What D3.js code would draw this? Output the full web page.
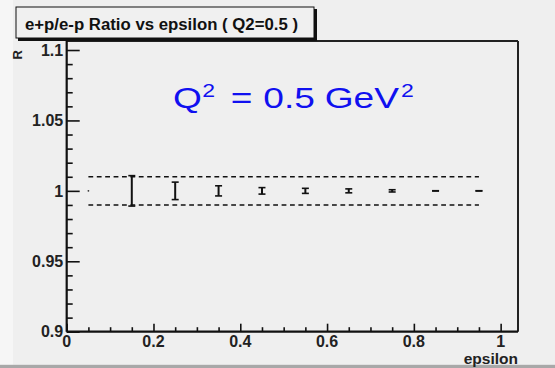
<!DOCTYPE html>
<html><head><meta charset="utf-8">
<script src="https://cdn.jsdelivr.net/npm/d3@7"></script>
<style>
html,body{margin:0;padding:0;background:#f0f0f0;}
svg{display:block;}
text{font-family:"Liberation Sans",Arial,sans-serif;}
</style></head>
<body>
<svg id="c" width="555" height="368"></svg>
<script>
const epsilon = [0.05, 0.15, 0.25, 0.35, 0.45, 0.55, 0.65, 0.75, 0.85, 0.95];
const ratio   = [1.0, 1.0, 1.0, 1.0, 1.0, 1.0, 1.0, 1.0, 1.0, 1.0];
const ratioErr= [0.0, 0.0108, 0.0062, 0.0036, 0.0023, 0.0018, 0.0014, 0.0008, 0.0001, 0.0001];
const bandLevels = [1.01, 0.99];
const bandRange = [0.05, 0.95];
const xTicks = [0, 0.2, 0.4, 0.6, 0.8, 1];
const yTicks = [0.9, 0.95, 1.0, 1.05, 1.1];
const xTickLabels = ["0", "0.2", "0.4", "0.6", "0.8", "1"];
const yTickLabels = ["0.9", "0.95", "1", "1.05", "1.1"];
const titleText = "e+p/e-p Ratio vs epsilon ( Q2=0.5 )";

const svg = d3.select("#c");
const X0 = 66.7, X1 = 518, Y0 = 331.7, Y1 = 41;
const x = d3.scaleLinear().domain([0, 1.04]).range([X0, X1]);
const y = d3.scaleLinear().domain([0.9, 1.1064]).range([Y0, Y1]);

// canvas bg
svg.append("rect").attr("x",0).attr("y",0).attr("width",555).attr("height",368).attr("fill","#efefef");
svg.append("rect").attr("x",0).attr("y",0).attr("width",13).attr("height",368).attr("fill","#f6f6f6");
svg.append("rect").attr("x",0).attr("y",364.8).attr("width",555).attr("height",4).attr("fill","#a8a8a8");

// frame top & right
svg.append("line").attr("x1",X0).attr("x2",X1).attr("y1",Y1).attr("y2",Y1).attr("stroke","#222").attr("stroke-width",2);
svg.append("line").attr("x1",X1).attr("x2",X1).attr("y1",Y1).attr("y2",Y0).attr("stroke","#222").attr("stroke-width",2);

// dashed band lines
bandLevels.forEach(v=>{
  svg.append("line").attr("x1",x(bandRange[0])).attr("x2",x(bandRange[1]))
    .attr("y1",y(v)).attr("y2",y(v))
    .attr("stroke","#111").attr("stroke-width",1.6).attr("stroke-dasharray","4.8,3.6");
});

// axes
const yMinor = d3.range(0.9, 1.1001, 0.01).map(v=>+v.toFixed(3)).filter(v=>!yTicks.some(t=>Math.abs(t-v)<1e-6));
const xMinor = d3.range(0, 1.0001, 0.05).map(v=>+v.toFixed(3)).filter(v=>!xTicks.some(t=>Math.abs(t-v)<1e-6));

const yAxis = svg.append("g").attr("transform",`translate(${X0},0)`);
yAxis.call(d3.axisRight(y).tickValues(yTicks).tickSize(13).tickFormat(""));
yAxis.append("g").call(d3.axisRight(y).tickValues(yMinor).tickSize(6).tickFormat(""));
yAxis.selectAll(".domain").remove();
yAxis.selectAll("line").attr("stroke","#111").attr("stroke-width",1.6);
yAxis.append("line").attr("x1",0).attr("x2",0).attr("y1",Y1).attr("y2",Y0).attr("stroke","#111").attr("stroke-width",2.2);
yTicks.forEach((t,i)=>{
  yAxis.append("text").attr("x",-3.5).attr("y",y(t)).attr("dy","0.36em")
    .attr("text-anchor","end").attr("font-weight","bold").attr("font-size",16).attr("fill","#222").text(yTickLabels[i]);
});

const xAxis = svg.append("g").attr("transform",`translate(0,${Y0})`);
xAxis.call(d3.axisTop(x).tickValues(xTicks).tickSize(8).tickFormat(""));
xAxis.append("g").call(d3.axisTop(x).tickValues(xMinor).tickSize(4.5).tickFormat(""));
xAxis.selectAll(".domain").remove();
xAxis.selectAll("line").attr("stroke","#111").attr("stroke-width",1.6);
xAxis.append("line").attr("x1",X0).attr("x2",X1).attr("y1",0).attr("y2",0).attr("stroke","#111").attr("stroke-width",2.2);
xTicks.forEach((t,i)=>{
  xAxis.append("text").attr("x",x(t)).attr("y",15.8)
    .attr("text-anchor","middle").attr("font-weight","bold").attr("font-size",16).attr("fill","#222").text(xTickLabels[i]);
});

// axis titles
svg.append("text").attr("x",X1).attr("y",363.5).attr("text-anchor","end")
  .attr("font-weight","bold").attr("font-size",15.5).attr("fill","#222").text("epsilon");
svg.append("text").attr("transform","translate(22,50) rotate(-90)").attr("text-anchor","end")
  .attr("font-weight","bold").attr("font-size",13).attr("fill","#222").text("R");

// error bars
const capW = 3.5;
const g = svg.append("g");
epsilon.forEach((e,i)=>{
  const cx = x(e), lo = y(ratio[i]-ratioErr[i]), hi = y(ratio[i]+ratioErr[i]);
  if (ratioErr[i] === 0) {
    g.append("circle").attr("cx",cx).attr("cy",y(ratio[i])).attr("r",0.9).attr("fill","#333");
    return;
  }
  g.append("line").attr("x1",cx).attr("x2",cx).attr("y1",lo).attr("y2",hi).attr("stroke","#111").attr("stroke-width",2);
  [lo,hi].forEach(yy=>g.append("line").attr("x1",cx-capW).attr("x2",cx+capW).attr("y1",yy).attr("y2",yy).attr("stroke","#111").attr("stroke-width",1.6));
});

// title box
const tb = svg.append("g");
tb.append("rect").attr("x",18).attr("y",9).attr("width",299).attr("height",32).attr("fill","#111");
tb.append("rect").attr("x",16).attr("y",7).attr("width",298).attr("height",31).attr("fill","#f0f0f0").attr("stroke","#111").attr("stroke-width",1);
tb.append("text").attr("x",25).attr("y",30).attr("font-weight","bold").attr("font-size",16)
  .attr("textLength",273).attr("lengthAdjust","spacingAndGlyphs").attr("fill","#111").text(titleText);

// Q2 label (horizontally stretched like the reference)
const q = svg.append("g").attr("transform","translate(175,107.5) scale(1.28,1)")
  .attr("fill","#1010f0");
q.append("text").attr("x",-1.5).attr("y",0).attr("font-size",29).text("Q");
q.append("text").attr("x",21.3).attr("y",-10.5).attr("font-size",18).text("2");
q.append("text").attr("x",43.5).attr("y",0).attr("font-size",29).text("=");
q.append("text").attr("x",69).attr("y",0).attr("font-size",29).text("0.5");
q.append("text").attr("x",117).attr("y",0).attr("font-size",29).text("GeV");
q.append("text").attr("x",176.5).attr("y",-10.5).attr("font-size",18).text("2");
</script>
</body></html>
